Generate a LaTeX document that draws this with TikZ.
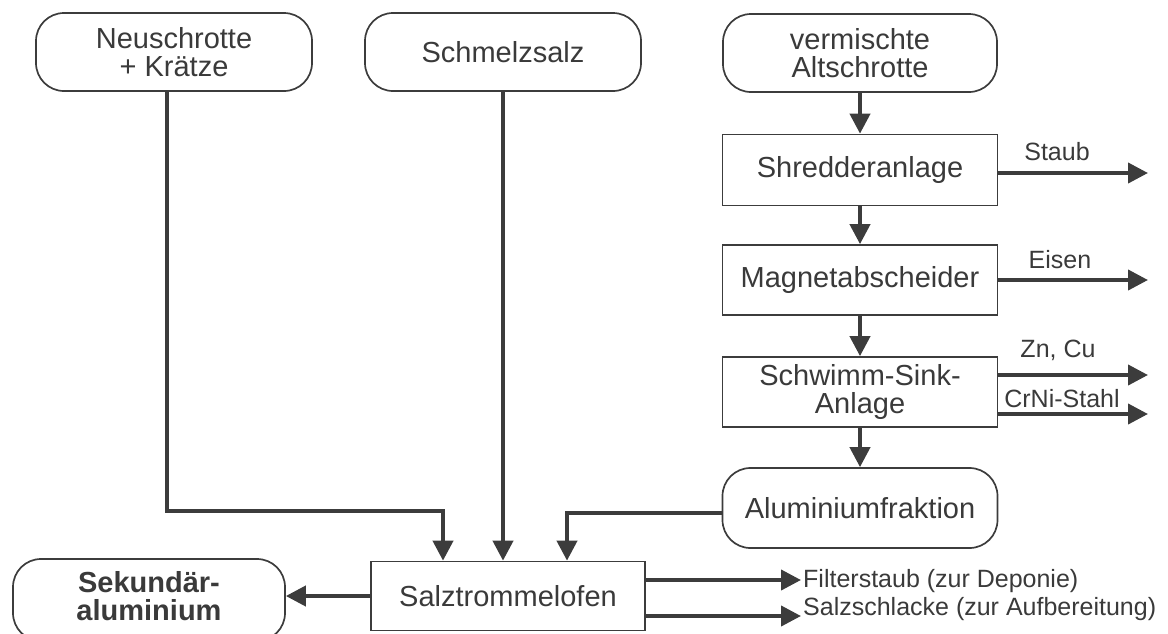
\documentclass[tikz,border=0pt]{standalone}
\usepackage{fontspec}
\setmainfont{Liberation Sans}
\usetikzlibrary{arrows.meta}
\definecolor{lc}{HTML}{3C3C3C}
\definecolor{tc}{HTML}{3A3A3A}
\tikzset{
  base/.style={draw=lc, line width=1.7pt, text=tc, font=\fontsize{29}{28.5}\selectfont, align=center, inner sep=0pt},
  proc/.style={base, rectangle, minimum width=275pt, minimum height=70pt},
  term/.style={base, rounded corners=28pt, minimum width=276pt, minimum height=78pt},
  flow/.style={draw=lc, line width=4pt, -{Triangle[width=20pt,length=20pt]}},
  lbl/.style={text=tc, font=\fontsize{25}{25}\selectfont, inner sep=0pt}
}
\begin{document}
\begin{tikzpicture}[x=1pt,y=-1pt]
\useasboundingbox (0,0) rectangle (1168,633);
% nodes
\node[term] (neu) at (174,52) {Neuschrotte\\+ Krätze};
\node[term] (schm) at (503,52) {Schmelzsalz};
\node[term, minimum width=274pt] (verm) at (860,53) {vermischte\\Altschrotte};
\node[proc, minimum height=71pt] (shred) at (860,170) {Shredderanlage};
\node[proc] (mag) at (860,280) {Magnetabscheider};
\node[proc] (schw) at (860,392) {Schwimm-Sink-\\Anlage};
\node[term, minimum width=275pt, minimum height=80pt] (alu) at (860,508) {Aluminiumfraktion};
\node[proc, minimum width=274pt, minimum height=69pt] (salz) at (508,596) {Salztrommelofen};
\node[term, minimum width=272pt, minimum height=82pt, text depth=8pt, font=\bfseries\fontsize{29}{28.5}\selectfont] (sek) at (149,600) {Sekundär-\\aluminium};
% free ends
\coordinate (xend) at (1148,0);
\coordinate (send) at (801,0);
% right column flow
\draw[flow] (verm.south) -- (shred.north);
\draw[flow] (shred.south) -- (mag.north);
\draw[flow] (mag.south) -- (schw.north);
\draw[flow] (schw.south) -- (alu.north);
% side outputs
\draw[flow] ([yshift=-3pt]shred.east) -- ([yshift=-3pt]shred.east -| xend);
\draw[flow] (mag.east) -- (mag.east -| xend);
\draw[flow] ([yshift=17pt]schw.east) -- ([yshift=17pt]schw.east -| xend);
\draw[flow] ([yshift=-22pt]schw.east) -- ([yshift=-22pt]schw.east -| xend);
\node[lbl, anchor=base] (lstaub) at (1057,160) {Staub};
\node[lbl, anchor=base] (leisen) at (1060,268) {Eisen};
\node[lbl, anchor=base] (lzn) at (1058,357) {Zn, Cu};
\node[lbl, anchor=base] (lcrni) at (1062,407) {CrNi-Stahl};
% inputs to Salztrommelofen
\draw[flow] ([xshift=-7pt]neu.south) |- ([xshift=-65pt,yshift=50pt]salz.north) -- ([xshift=-65pt]salz.north);
\draw[flow] (schm.south) -- (schm.south |- salz.north);
\draw[flow] ([yshift=-5pt]alu.west) -| ([xshift=59pt]salz.north);
% outputs of Salztrommelofen
\draw[flow] (salz.west) -- (salz.west -| sek.east);
\draw[flow] ([yshift=16pt]salz.east) -- ([yshift=16pt]salz.east -| send);
\draw[flow] ([yshift=-20pt]salz.east) -- ([yshift=-20pt]salz.east -| send);
\node[lbl, anchor=base west] (lfilter) at (803,587) {Filterstaub (zur Deponie)};
\node[lbl, anchor=base west] (lschlacke) at (803,615) {Salzschlacke (zur Aufbereitung)};
\end{tikzpicture}
\end{document}
